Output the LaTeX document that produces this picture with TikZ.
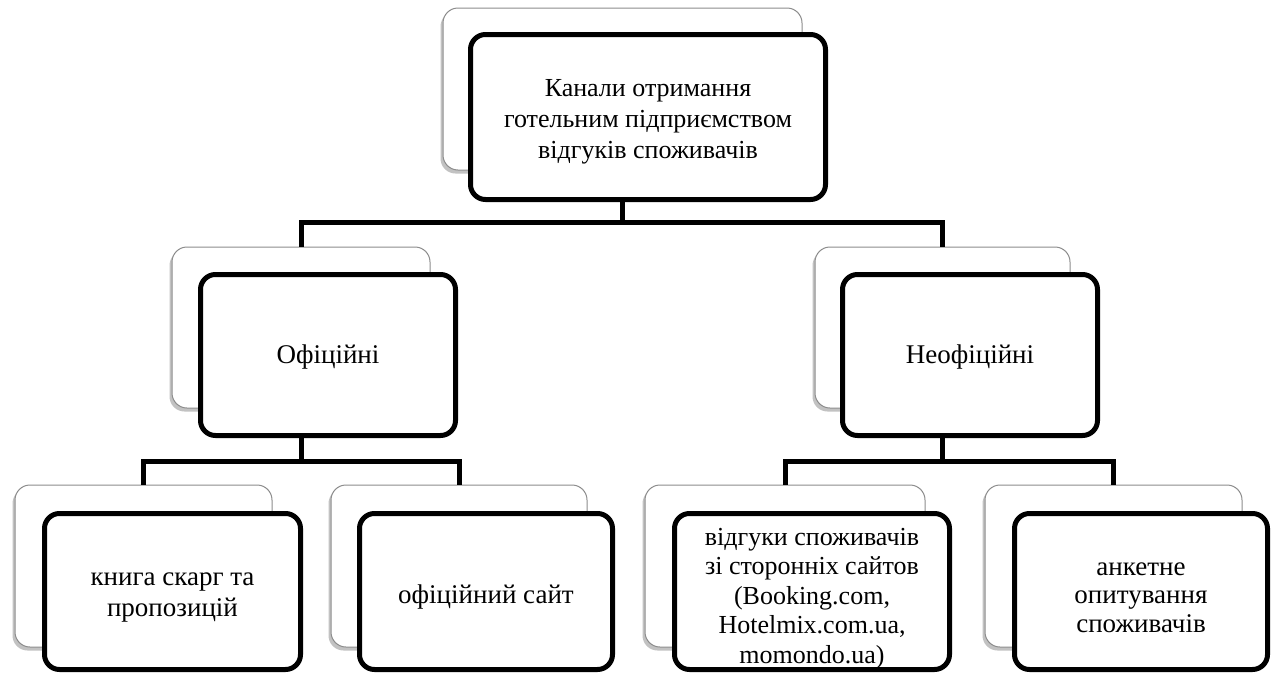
\documentclass[tikz,border=0pt]{standalone}
\usepackage{fontspec}
\setmainfont{Liberation Serif}
\usetikzlibrary{shadows}
\tikzset{
  backbox/.style={draw=black!45, line width=1pt, fill=white, rounded corners=15pt,
    inner sep=0pt, minimum width=#1, minimum height=161pt,
    drop shadow={shadow xshift=-2.5pt, shadow yshift=-3.5pt, opacity=0.4, fill=black!60}},
  frontbox/.style={draw=black, line width=5pt, fill=white, rounded corners=15pt,
    inner sep=0pt, minimum width=#1, minimum height=158pt},
  txt/.style={inner sep=0pt, align=center, font=\fontsize{#1}{31}\selectfont},
  conn/.style={draw=black, line width=5pt}
}
\begin{document}
\begin{tikzpicture}[x=1pt,y=-1pt]
\useasboundingbox (0,0) rectangle (1280,675);
% top
\node[backbox=359pt, minimum height=162pt] (tb) at (622.5,89) {};
\node[frontbox=355pt, minimum height=165pt] (tf) at (648,117) {};
\node[txt=26] (tft) at ([yshift=-5pt]tf.center) {Канали отримання\\готельним підприємством\\відгуків споживачів};
% middle
\node[backbox=258pt] (lb) at (301,327.5) {};
\node[frontbox=255pt, minimum height=161pt] (lf) at (328,355) {};
\node[txt=27] (lft) at ([yshift=-2pt]lf.center) {Офіційні};
\node[backbox=255pt] (rb) at (942.5,327.5) {};
\node[frontbox=255pt, minimum height=161pt] (rf) at (970,355) {};
\node[txt=27] (rft) at ([yshift=-2pt]rf.center) {Неофіційні};
% bottom
\node[backbox=257pt, minimum height=162pt] (b1b) at (143.5,566) {};
\node[frontbox=256pt, minimum height=156pt] (b1f) at (172.5,591.5) {};
\node[txt=27] (b1t) at ([yshift=-6pt]b1f.center) {книга скарг та\\пропозицій};
\node[backbox=256pt, minimum height=162pt] (b2b) at (459,566) {};
\node[frontbox=253pt, minimum height=156pt] (b2f) at (486,591.5) {};
\node[txt=27] (b2t) at ([yshift=-5pt]b2f.center) {офіційний сайт};
\node[backbox=280pt, minimum height=162pt] (b3b) at (785,566) {};
\node[frontbox=275pt, minimum height=156pt] (b3f) at (812,591.5) {};
\node[inner sep=0pt, align=center, font=\fontsize{26}{29.5}\selectfont] (b3t) at ([yshift=-7pt]b3f.center)
  {відгуки споживачів\\зі сторонніх сайтов\\(Booking.com,\\Hotelmix.com.ua,\\momondo.ua)};
\node[backbox=257pt, minimum height=162pt] (b4b) at (1113.5,566) {};
\node[frontbox=253pt, minimum height=156pt] (b4f) at (1141,591.5) {};
\node[inner sep=0pt, align=center, font=\fontsize{27}{28.5}\selectfont] (b4t) at ([yshift=-6pt]b4f.center)
  {анкетне\\опитування\\споживачів};
% junctions
\coordinate (j0) at (621,222);
\coordinate (j1) at (302,461);
\coordinate (j2) at (943,461);
% connectors
\draw[conn] (tb |- tf.south) -- (tb |- j0);
\draw[conn] (lb.north) -- (lb |- j0) -- (rb |- j0) -- (rb.north);
\draw[conn] (lb |- lf.south) -- (lb |- j1);
\draw[conn] (b1b.north) -- (b1b |- j1) -- (b2b |- j1) -- (b2b.north);
\draw[conn] (rb |- rf.south) -- (rb |- j2);
\draw[conn] (b3b.north) -- (b3b |- j2) -- (b4b |- j2) -- (b4b.north);
\end{tikzpicture}
\end{document}
